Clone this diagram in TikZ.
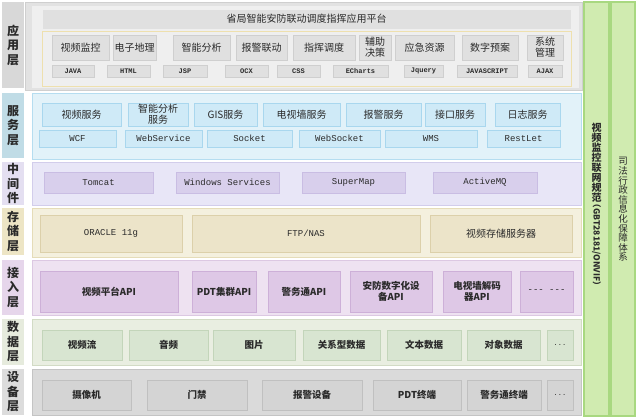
\documentclass[tikz,border=0pt]{standalone}
\usepackage{fontspec}
\newfontfamily\cjk{Noto Sans CJK SC}
\newfontfamily\mono{Liberation Mono}
\definecolor{txt}{HTML}{2A2A2A}
\definecolor{appLab}{HTML}{D8D8D8}
\definecolor{appOut}{HTML}{E2E2E2}
\definecolor{appIn}{HTML}{EFEFEF}
\definecolor{appItem}{HTML}{E0E0E0}
\definecolor{appBd}{HTML}{CFCFCF}
\definecolor{yelBd}{HTML}{EEE0AE}
\definecolor{svcLab}{HTML}{C0DCE6}
\definecolor{svcBox}{HTML}{E2F2F9}
\definecolor{svcBd}{HTML}{B5DDF0}
\definecolor{svcItem}{HTML}{CFEAF7}
\definecolor{svcIBd}{HTML}{A9D7EE}
\definecolor{midLab}{HTML}{E4DFF1}
\definecolor{midBox}{HTML}{E8E6F7}
\definecolor{midBd}{HTML}{D2CDEB}
\definecolor{midItem}{HTML}{D8CFEC}
\definecolor{midIBd}{HTML}{C9BDE3}
\definecolor{stoLab}{HTML}{EDE5C5}
\definecolor{stoBox}{HTML}{F4F0DE}
\definecolor{stoBd}{HTML}{E5DCB8}
\definecolor{stoItem}{HTML}{ECE4C9}
\definecolor{stoIBd}{HTML}{DCD0AA}
\definecolor{accLab}{HTML}{E6D6EB}
\definecolor{accBox}{HTML}{EEE2F1}
\definecolor{accBd}{HTML}{DCC8E2}
\definecolor{accItem}{HTML}{DEC8E6}
\definecolor{accIBd}{HTML}{CDB0D8}
\definecolor{datLab}{HTML}{E6EBDD}
\definecolor{datBox}{HTML}{E9EEE1}
\definecolor{datBd}{HTML}{D2DBC5}
\definecolor{datItem}{HTML}{D8E5D1}
\definecolor{datIBd}{HTML}{C3D5BA}
\definecolor{devLab}{HTML}{DCDCDC}
\definecolor{devBox}{HTML}{DADADA}
\definecolor{devBd}{HTML}{C4C4C4}
\definecolor{devItem}{HTML}{D4D4D4}
\definecolor{devIBd}{HTML}{C0C0C0}
\definecolor{grn}{HTML}{D0EBB0}
\definecolor{grnBd}{HTML}{A8D880}
\newcommand\bx[7]{%
  \pgfmathsetmacro\bxw{#4-#2}\pgfmathsetmacro\bxh{#5-#3}%
  \node[#6, anchor=north west, minimum width=\bxw pt, minimum height=\bxh pt,
        inner sep=0pt, outer sep=0pt, align=center, text=txt] (#1) at (#2,#3) {#7};}
\tikzset{
  lab/.style={draw=none, fill=#1, font=\cjk\bfseries\fontsize{12}{14.5}\selectfont},
  lay/.style 2 args={draw=#2, fill=#1, line width=0.8pt},
  itm/.style 2 args={draw=#2, fill=#1, line width=0.8pt},
  cn/.style={font=\cjk\fontsize{10}{11}\selectfont},
  cnb/.style={font=\cjk\bfseries\fontsize{9.5}{10.5}\selectfont},
  mn/.style={font=\mono\fontsize{9}{10}\selectfont},
  dots/.style={font=\mono\fontsize{7}{8}\selectfont},
  tech/.style={font=\mono\bfseries\fontsize{7}{8}\selectfont},
}
\begin{document}
\begin{tikzpicture}[x=1pt,y=-1pt]
\useasboundingbox[fill=white] (0,0) rectangle (638,418);
% layer labels
\bx{lApp}{2}{2}{24}{88}{lab=appLab}{应\\用\\层}
\bx{lSvc}{2}{93}{24}{158}{lab=svcLab}{服\\务\\层}
\bx{lMid}{2}{162}{24}{205}{lab=midLab}{中\\间\\件}
\bx{lSto}{2}{208}{24}{255}{lab=stoLab}{存\\储\\层}
\bx{lAcc}{2}{260}{24}{315}{lab=accLab}{接\\入\\层}
\bx{lDat}{2}{319}{24}{365}{lab=datLab}{数\\据\\层}
\bx{lDev}{2}{369}{24}{415}{lab=devLab}{设\\备\\层}
% application layer
\bx{app}{25}{2}{582}{90}{lay={appOut}{appBd}}{}
\bx{appin}{32}{6}{579}{88}{draw=none,fill=appIn}{}
\bx{hdr}{43}{10}{570}{28}{itm={appItem}{appItem},cn}{省局智能安防联动调度指挥应用平台}
\bx{yfr}{42}{31}{571}{86}{draw=yelBd,line width=0.8pt,fill=appIn}{}
\bx{a1}{52}{35}{109}{60}{itm={appItem}{appBd},cn}{视频监控}
\bx{a2}{113}{35}{156}{60}{itm={appItem}{appBd},cn}{电子地理}
\bx{a3}{173}{35}{230}{60}{itm={appItem}{appBd},cn}{智能分析}
\bx{a4}{236}{35}{287}{60}{itm={appItem}{appBd},cn}{报警联动}
\bx{a5}{293}{35}{355}{60}{itm={appItem}{appBd},cn}{指挥调度}
\bx{a6}{359}{35}{391}{60}{itm={appItem}{appBd},cn}{辅助\\决策}
\bx{a7}{395}{35}{454}{60}{itm={appItem}{appBd},cn}{应急资源}
\bx{a8}{462}{35}{518}{60}{itm={appItem}{appBd},cn}{数字预案}
\bx{a9}{527}{35}{563}{60}{itm={appItem}{appBd},cn}{系统\\管理}
\bx{t1}{52}{65}{94}{77}{itm={appItem}{appBd},tech}{JAVA}
\bx{t2}{107}{65}{150}{77}{itm={appItem}{appBd},tech}{HTML}
\bx{t3}{163}{65}{207}{77}{itm={appItem}{appBd},tech}{JSP}
\bx{t4}{225}{65}{268}{77}{itm={appItem}{appBd},tech}{OCX}
\bx{t5}{277}{65}{320}{77}{itm={appItem}{appBd},tech}{CSS}
\bx{t6}{333}{65}{388}{77}{itm={appItem}{appBd},tech}{ECharts}
\bx{t7}{404}{65}{443}{77}{itm={appItem}{appBd},tech}{Jquery}
\bx{t8}{457}{65}{517}{77}{itm={appItem}{appBd},tech}{JAVASCRIPT}
\bx{t9}{528}{65}{562}{77}{itm={appItem}{appBd},tech}{AJAX}
% service layer
\bx{svc}{32}{93}{581}{159}{lay={svcBox}{svcBd}}{}
\bx{s1}{42}{103}{121}{126}{itm={svcItem}{svcIBd},cn}{视频服务}
\bx{s2}{128}{103}{188}{126}{itm={svcItem}{svcIBd},cn}{智能分析\\服务}
\bx{s3}{194}{103}{257}{126}{itm={svcItem}{svcIBd},cn}{GIS服务}
\bx{s4}{263}{103}{340}{126}{itm={svcItem}{svcIBd},cn}{电视墙服务}
\bx{s5}{346}{103}{421}{126}{itm={svcItem}{svcIBd},cn}{报警服务}
\bx{s6}{425}{103}{485}{126}{itm={svcItem}{svcIBd},cn}{接口服务}
\bx{s7}{495}{103}{560}{126}{itm={svcItem}{svcIBd},cn}{日志服务}
\bx{p1}{39}{130}{116}{147}{itm={svcItem}{svcIBd},mn}{WCF}
\bx{p2}{125}{130}{202}{147}{itm={svcItem}{svcIBd},mn}{WebService}
\bx{p3}{207}{130}{292}{147}{itm={svcItem}{svcIBd},mn}{Socket}
\bx{p4}{299}{130}{380}{147}{itm={svcItem}{svcIBd},mn}{WebSocket}
\bx{p5}{385}{130}{477}{147}{itm={svcItem}{svcIBd},mn}{WMS}
\bx{p6}{487}{130}{560}{147}{itm={svcItem}{svcIBd},mn}{RestLet}
% middleware
\bx{mid}{32}{162}{581}{205}{lay={midBox}{midBd}}{}
\bx{m1}{44}{172}{153}{193}{itm={midItem}{midIBd},mn}{Tomcat}
\bx{m2}{176}{172}{279}{193}{itm={midItem}{midIBd},mn}{Windows Services}
\bx{m3}{302}{172}{405}{193}{itm={midItem}{midIBd},mn}{SuperMap}
\bx{m4}{433}{172}{537}{193}{itm={midItem}{midIBd},mn}{ActiveMQ}
% storage
\bx{sto}{32}{208}{581}{257}{lay={stoBox}{stoBd}}{}
\bx{o1}{40}{215}{182}{252}{itm={stoItem}{stoIBd},mn}{ORACLE 11g}
\bx{o2}{192}{215}{420}{252}{itm={stoItem}{stoIBd},mn}{FTP/NAS}
\bx{o3}{430}{215}{572}{252}{itm={stoItem}{stoIBd},cn}{视频存储服务器}
% access
\bx{acc}{32}{260}{581}{315}{lay={accBox}{accBd}}{}
\bx{c1}{40}{271}{178}{312}{itm={accItem}{accIBd},cnb}{视频平台API}
\bx{c2}{192}{271}{256}{312}{itm={accItem}{accIBd},cnb}{PDT集群API}
\bx{c3}{268}{271}{340}{312}{itm={accItem}{accIBd},cnb}{警务通API}
\bx{c4}{350}{271}{432}{312}{itm={accItem}{accIBd},cnb}{安防数字化设\\备API}
\bx{c5}{443}{271}{511}{312}{itm={accItem}{accIBd},cnb}{电视墙解码\\器API}
\bx{c6}{520}{271}{573}{312}{itm={accItem}{accIBd},mn}{{-}{-}{-} {-}{-}{-}}
% data
\bx{dat}{32}{319}{581}{365}{lay={datBox}{datBd}}{}
\bx{d1}{42}{330}{122}{360}{itm={datItem}{datIBd},cnb}{视频流}
\bx{d2}{129}{330}{208}{360}{itm={datItem}{datIBd},cnb}{音频}
\bx{d3}{213}{330}{295}{360}{itm={datItem}{datIBd},cnb}{图片}
\bx{d4}{303}{330}{380}{360}{itm={datItem}{datIBd},cnb}{关系型数据}
\bx{d5}{387}{330}{461}{360}{itm={datItem}{datIBd},cnb}{文本数据}
\bx{d6}{467}{330}{540}{360}{itm={datItem}{datIBd},cnb}{对象数据}
\bx{d7}{547}{330}{573}{360}{itm={datItem}{datIBd},dots}{...}
% device
\bx{dev}{32}{369}{581}{415}{lay={devBox}{devBd}}{}
\bx{e1}{42}{380}{131}{410}{itm={devItem}{devIBd},cnb}{摄像机}
\bx{e2}{147}{380}{247}{410}{itm={devItem}{devIBd},cnb}{门禁}
\bx{e3}{262}{380}{362}{410}{itm={devItem}{devIBd},cnb}{报警设备}
\bx{e4}{373}{380}{461}{410}{itm={devItem}{devIBd},cnb}{PDT终端}
\bx{e5}{467}{380}{541}{410}{itm={devItem}{devIBd},cnb}{警务通终端}
\bx{e6}{547}{380}{573}{410}{itm={devItem}{devIBd},dots}{...}
% right columns
\bx{g1}{584}{2}{609}{416}{draw=grnBd,fill=grn,line width=1.2pt}{}
\bx{g2}{611}{2}{635}{416}{draw=grnBd,fill=grn,line width=1.2pt}{}
\node[inner sep=0pt, align=center, text=txt, font=\cjk\bfseries\fontsize{10}{10}\selectfont] (g1t) at (596.5,163) {视\\频\\监\\控\\联\\网\\规\\范};
\node[inner sep=0pt, rotate=-90, text=txt, font=\cjk\bfseries\fontsize{8.5}{9}\selectfont] (g1r) at (596.5,245) {（GBT28181/ONVIF）};
\node[inner sep=0pt, align=center, text=txt, font=\cjk\fontsize{9.5}{9.6}\selectfont] (g2t) at (623,209.5) {司\\法\\行\\政\\信\\息\\化\\保\\障\\体\\系};
\end{tikzpicture}
\end{document}
